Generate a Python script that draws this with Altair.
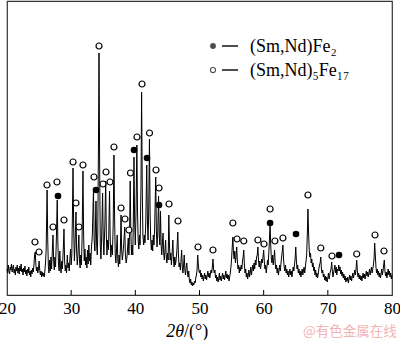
import altair as alt
import pandas as pd

# ---- XRD pattern: [2theta, intensity (a.u.)] ----
seg_20_26 = [
    [20.0, 26], [20.1, 22], [20.2, 30], [20.3, 24], [20.4, 21], [20.5, 28], [20.6, 25], [20.7, 31],
    [20.8, 23], [20.9, 27], [21.0, 30], [21.1, 22], [21.2, 26], [21.3, 20], [21.4, 28], [21.5, 24],
    [21.6, 30], [21.7, 22], [21.8, 27], [21.9, 21], [22.0, 29], [22.1, 24], [22.2, 31], [22.3, 23],
    [22.4, 26], [22.5, 20], [22.6, 27], [22.7, 23], [22.8, 29], [22.9, 21], [23.0, 25], [23.1, 19],
    [23.2, 26], [23.3, 22], [23.4, 28], [23.5, 20], [23.6, 24], [23.7, 18], [23.8, 25], [23.9, 21],
    [24.0, 27], [24.1, 23], [24.2, 30], [24.3, 40], [24.4, 43], [24.5, 30], [24.6, 24], [24.7, 28],
    [24.8, 22], [24.9, 26], [25.0, 34], [25.1, 25], [25.2, 20], [25.3, 24], [25.4, 18], [25.5, 23],
    [25.6, 19], [25.7, 22], [25.8, 18], [25.9, 24], [26.0, 32],
]
seg_26_35 = [
    [26.1, 45], [26.2, 85], [26.25, 105], [26.35, 55], [26.45, 28], [26.55, 22], [26.65, 35], [26.75, 24],
    [26.85, 38], [26.95, 26], [27.05, 42], [27.17, 60], [27.27, 34], [27.37, 25], [27.47, 38], [27.57, 28],
    [27.7, 58], [27.83, 95], [27.93, 52], [28.03, 30], [28.13, 24], [28.23, 44], [28.33, 28], [28.43, 22],
    [28.53, 34], [28.63, 26], [28.73, 40], [28.8, 50], [28.88, 66], [28.98, 34], [29.08, 24], [29.18, 30],
    [29.28, 22], [29.4, 40], [29.5, 27], [29.6, 32], [29.7, 24], [29.8, 36], [29.9, 46], [30.0, 30],
    [30.1, 40], [30.2, 82], [30.29, 127], [30.39, 68], [30.5, 34], [30.6, 50], [30.75, 83], [30.85, 44],
    [30.95, 30], [31.05, 40], [31.2, 60], [31.3, 34], [31.4, 27], [31.5, 40], [31.6, 30], [31.7, 56],
    [31.84, 124], [31.94, 60], [32.04, 34], [32.15, 46], [32.25, 30], [32.35, 38], [32.45, 27], [32.55, 45],
    [32.65, 31], [32.75, 50], [32.85, 34], [32.95, 42], [33.05, 30], [33.15, 46], [33.3, 60], [33.48, 106],
    [33.58, 55], [33.7, 44], [33.87, 94], [33.97, 50], [34.07, 40], [34.15, 62], [34.25, 150], [34.34, 242],
    [34.44, 128], [34.54, 50], [34.64, 36],
]
seg_35_41 = [
    [34.75, 58], [34.9, 102], [35.0, 55], [35.1, 40], [35.25, 70], [35.38, 114], [35.48, 60], [35.58, 40],
    [35.68, 55], [35.82, 45], [35.98, 104], [36.08, 58], [36.18, 38], [36.3, 50], [36.42, 40], [36.55, 70],
    [36.67, 140], [36.77, 78], [36.87, 40], [36.97, 32], [37.07, 45], [37.17, 60], [37.27, 35], [37.37, 28],
    [37.47, 40], [37.57, 31], [37.67, 46], [37.77, 80], [37.87, 45], [37.97, 35], [38.07, 41], [38.2, 52],
    [38.35, 68], [38.45, 40], [38.57, 32], [38.7, 38], [38.9, 57], [39.0, 40], [39.1, 62], [39.2, 114],
    [39.3, 64], [39.4, 40], [39.5, 50], [39.6, 40], [39.68, 70], [39.79, 138], [39.89, 74], [39.99, 50],
    [40.1, 80], [40.24, 150], [40.34, 84], [40.44, 55], [40.54, 46],
]
seg_41_50 = [
    [40.64, 60], [40.74, 50], [40.88, 110], [40.98, 203], [41.08, 108], [41.18, 60], [41.3, 50], [41.4, 60],
    [41.5, 52], [41.62, 70], [41.78, 130], [41.88, 75], [41.98, 55], [42.08, 82], [42.2, 156], [42.3, 84],
    [42.4, 55], [42.5, 45], [42.6, 55], [42.7, 44], [42.8, 60], [42.9, 50], [43.0, 65], [43.18, 118],
    [43.28, 64], [43.38, 48], [43.48, 60], [43.62, 99], [43.72, 60], [43.82, 50], [43.92, 84], [44.02, 50],
    [44.12, 40], [44.22, 52], [44.32, 62], [44.42, 42], [44.52, 35], [44.62, 45], [44.72, 55], [44.82, 38],
    [44.92, 32], [45.02, 42], [45.12, 35], [45.22, 80], [45.32, 50], [45.42, 35], [45.52, 42], [45.62, 30],
    [45.72, 40], [45.85, 55], [45.95, 35], [46.05, 28], [46.15, 38], [46.25, 30], [46.35, 35], [46.48, 45],
    [46.62, 63], [46.72, 40], [46.82, 28], [46.92, 32], [47.02, 25], [47.12, 35], [47.22, 45], [47.32, 28],
    [47.42, 22], [47.52, 30], [47.62, 40], [47.72, 25], [47.82, 20], [47.92, 28], [48.02, 32], [48.12, 22],
    [48.22, 18], [48.32, 24], [48.42, 15], [48.52, 12], [48.62, 16], [48.72, 10], [48.82, 13], [48.92, 9],
    [49.02, 12], [49.12, 10], [49.22, 14], [49.32, 12], [49.42, 17], [49.52, 20], [49.62, 25], [49.72, 40],
    [49.82, 30], [49.92, 24],
]
seg_50_65 = [
    [50.0, 22], [50.1, 25], [50.2, 18], [50.3, 22], [50.4, 16], [50.5, 20], [50.6, 14], [50.7, 18],
    [50.8, 22], [50.9, 16], [51.0, 20], [51.1, 15], [51.2, 19], [51.3, 24], [51.4, 18], [51.5, 22],
    [51.6, 17], [51.7, 21], [51.8, 25], [51.9, 22], [52.0, 28], [52.1, 36], [52.2, 26], [52.3, 22],
    [52.4, 25], [52.5, 17], [52.6, 20], [52.7, 14], [52.8, 18], [52.9, 13], [53.0, 17], [53.1, 22],
    [53.2, 15], [53.3, 19], [53.4, 14], [53.5, 18], [53.6, 22], [53.7, 16], [53.8, 20], [53.9, 15],
    [54.0, 19], [54.1, 24], [54.2, 17], [54.3, 21], [54.4, 16], [54.5, 20], [54.6, 14], [54.7, 18],
    [54.8, 22], [54.9, 28], [55.0, 36], [55.1, 48], [55.2, 58], [55.3, 42], [55.4, 36], [55.5, 44],
    [55.6, 32], [55.7, 38], [55.8, 48], [55.9, 34], [56.0, 26], [56.1, 30], [56.2, 22], [56.3, 28],
    [56.4, 24], [56.5, 30], [56.6, 26], [56.7, 34], [56.8, 38], [56.9, 45], [57.0, 30], [57.1, 22],
    [57.2, 26], [57.3, 18], [57.4, 22], [57.5, 16], [57.6, 20], [57.7, 25], [57.8, 18], [57.9, 22],
    [58.0, 28], [58.1, 20], [58.2, 25], [58.3, 30], [58.4, 24], [58.5, 32], [58.6, 26], [58.7, 35],
    [58.8, 30], [58.9, 38], [59.0, 40], [59.1, 48], [59.2, 34], [59.3, 28], [59.4, 34], [59.5, 26],
    [59.6, 30], [59.7, 36], [59.8, 32], [59.9, 38], [60.0, 45], [60.1, 34], [60.2, 26], [60.3, 30],
    [60.4, 22], [60.5, 28], [60.6, 35], [60.7, 30], [60.8, 42], [60.9, 55], [61.0, 72], [61.1, 50],
    [61.2, 36], [61.3, 32], [61.4, 40], [61.5, 30], [61.6, 36], [61.7, 45], [61.8, 32], [61.9, 26],
    [62.0, 30], [62.1, 22], [62.2, 27], [62.3, 20], [62.4, 25], [62.5, 30], [62.6, 24], [62.7, 32],
    [62.8, 38], [62.9, 44], [63.0, 50], [63.1, 36], [63.2, 28], [63.3, 24], [63.4, 30], [63.5, 22],
    [63.6, 26], [63.7, 20], [63.8, 24], [63.9, 18], [64.0, 22], [64.1, 26], [64.2, 20], [64.3, 24],
    [64.4, 18], [64.5, 23], [64.6, 28], [64.7, 24], [64.8, 30], [64.9, 36], [65.0, 48],
]
seg_65_80 = [
    [65.1, 34], [65.2, 26], [65.3, 30], [65.4, 22], [65.5, 26], [65.6, 20], [65.7, 24], [65.8, 18],
    [65.9, 22], [66.0, 26], [66.1, 20], [66.2, 24], [66.3, 28], [66.4, 22], [66.5, 28], [66.6, 34],
    [66.7, 40], [66.8, 60], [66.9, 86], [67.0, 62], [67.1, 45], [67.2, 38], [67.3, 42], [67.4, 32],
    [67.5, 36], [67.6, 28], [67.7, 32], [67.8, 24], [67.9, 28], [68.0, 20], [68.1, 25], [68.2, 18],
    [68.3, 22], [68.4, 17], [68.5, 21], [68.6, 26], [68.7, 30], [68.8, 32], [68.9, 38], [69.0, 26],
    [69.1, 22], [69.2, 25], [69.3, 18], [69.4, 21], [69.5, 15], [69.6, 19], [69.7, 14], [69.8, 18],
    [69.9, 13], [70.0, 17], [70.1, 22], [70.2, 16], [70.3, 20], [70.4, 24], [70.5, 26], [70.6, 33],
    [70.7, 24], [70.8, 18], [70.9, 22], [71.0, 26], [71.1, 30], [71.2, 22], [71.3, 28], [71.4, 20],
    [71.5, 26], [71.6, 24], [71.7, 30], [71.8, 24], [71.9, 28], [72.0, 21], [72.1, 25], [72.2, 19],
    [72.3, 23], [72.4, 17], [72.5, 21], [72.6, 15], [72.7, 19], [72.8, 13], [72.9, 17], [73.0, 14],
    [73.1, 18], [73.2, 12], [73.3, 16], [73.4, 20], [73.5, 15], [73.6, 19], [73.7, 14], [73.8, 18],
    [73.9, 22], [74.0, 17], [74.1, 21], [74.2, 25], [74.3, 20], [74.4, 26], [74.5, 35], [74.6, 24],
    [74.7, 18], [74.8, 22], [74.9, 16], [75.0, 20], [75.1, 15], [75.2, 19], [75.3, 14], [75.4, 18],
    [75.5, 22], [75.6, 17], [75.7, 21], [75.8, 16], [75.9, 20], [76.0, 24], [76.1, 19], [76.2, 23],
    [76.3, 18], [76.4, 22], [76.5, 26], [76.6, 20], [76.7, 24], [76.8, 28], [76.9, 22], [77.0, 26],
    [77.1, 30], [77.2, 36], [77.3, 52], [77.4, 40], [77.5, 28], [77.6, 22], [77.7, 26], [77.8, 20],
    [77.9, 24], [78.0, 18], [78.1, 22], [78.2, 17], [78.3, 21], [78.4, 26], [78.5, 20], [78.6, 24],
    [78.7, 30], [78.8, 35], [78.9, 24], [79.0, 19], [79.1, 23], [79.2, 17], [79.3, 21], [79.4, 26],
    [79.5, 20], [79.6, 24], [79.7, 18], [79.8, 22], [79.9, 16], [80.0, 20],
]

# ---- phase markers: (Sm,Nd)5Fe17 = open circles, (Sm,Nd)Fe2 = filled dots ----
open_t = [24.36, 24.99, 26.23, 27.17, 27.79, 28.88, 30.29, 30.75, 31.22, 31.84, 33.56, 34.34,
          34.96, 35.43, 36.05, 36.67, 37.77, 38.39, 39.01, 39.24, 40.26, 41.04, 42.21, 43.22,
          43.69, 45.25, 46.65, 49.77, 52.1, 55.2, 55.85, 56.9, 59.1, 60.05, 61.0, 61.75,
          63.0, 66.9, 68.9, 70.65, 74.5, 77.35, 78.75]
open_i = [53, 43, 110, 68, 113, 75, 133, 92, 68, 130, 118, 249,
          111, 123, 113, 148, 87, 76, 65, 122, 158, 211, 162, 125,
          107, 91, 74, 48, 45, 72, 56, 54, 55, 51, 86, 54,
          57, 100, 47, 39, 41, 60, 44]
fill_t = [27.95, 33.87, 39.79, 41.82, 43.69, 61.0, 65.04, 71.74]
fill_i = [99, 105, 145, 137, 90, 72, 61, 40]

x_ticks = [20, 30, 40, 50, 60, 70, 80]
inner_ticks = [30, 40, 50, 60, 70]

legend_labels = ["(Sm,Nd)Fe\u2082", "(Sm,Nd)\u2085Fe\u2081\u2087"]
x_title_italic = "2\u03b8"
x_title_rest = "/(\u00b0)"
watermark = "@有色金属在线"

W, H = 385, 294
SERIF = "Liberation Serif"

pattern = seg_20_26 + seg_26_35 + seg_35_41 + seg_41_50 + seg_50_65 + seg_65_80
df = pd.DataFrame(pattern, columns=["t", "i"])
df_open = pd.DataFrame({"t": open_t, "i": open_i})
df_fill = pd.DataFrame({"t": fill_t, "i": fill_i})
df_ticks = pd.DataFrame({"t": inner_ticks})
one = pd.DataFrame({"k": [0]})

xs = alt.Scale(domain=[20, 80], nice=False, zero=False)
ys = alt.Scale(domain=[0, 294], nice=False, zero=False)

line = alt.Chart(df).mark_line(color="#000000", strokeWidth=1.0).encode(
    x=alt.X("t:Q", scale=xs,
            axis=alt.Axis(values=x_ticks, ticks=False, domain=False, grid=False,
                          labelFont=SERIF, labelFontSize=17, labelColor="black",
                          labelPadding=5, labelFlush=False, format="d", title=None)),
    y=alt.Y("i:Q", scale=ys, axis=None),
)

opens = alt.Chart(df_open).mark_point(shape="circle", filled=False, fill="white", fillOpacity=1,
                                      stroke="black", strokeWidth=1.2, size=36, opacity=1).encode(
    x=alt.X("t:Q", scale=xs), y=alt.Y("i:Q", scale=ys))

fills = alt.Chart(df_fill).mark_point(shape="circle", filled=True, color="black",
                                      size=44, opacity=1).encode(
    x=alt.X("t:Q", scale=xs), y=alt.Y("i:Q", scale=ys))

ticks = alt.Chart(df_ticks).mark_rule(color="black", strokeWidth=1).encode(
    x=alt.X("t:Q", scale=xs), y=alt.value(H - 5), y2=alt.value(H))

# legend (drawn inside the plot)
leg_dot = alt.Chart(one).mark_point(shape="circle", filled=True, color="black", size=34).encode(
    x=alt.value(206), y=alt.value(45))
leg_ring = alt.Chart(one).mark_point(shape="circle", filled=False, stroke="black",
                                     strokeWidth=1.1, size=26).encode(
    x=alt.value(206), y=alt.value(69))
leg_dash1 = alt.Chart(one).mark_rule(color="black", strokeWidth=1.4).encode(
    x=alt.value(215), x2=alt.value(231), y=alt.value(45))
leg_dash2 = alt.Chart(one).mark_rule(color="black", strokeWidth=1.4).encode(
    x=alt.value(215), x2=alt.value(231), y=alt.value(69))
leg_txt1 = alt.Chart(one).mark_text(text=legend_labels[0], font=SERIF, fontSize=18, align="left",
                                    baseline="alphabetic", color="black").encode(
    x=alt.value(243), y=alt.value(51))
leg_txt2 = alt.Chart(one).mark_text(text=legend_labels[1], font=SERIF, fontSize=18, align="left",
                                    baseline="alphabetic", color="black").encode(
    x=alt.value(243), y=alt.value(75))

# x-axis title with italic 2θ
title_a = alt.Chart(one).mark_text(text=x_title_italic, font=SERIF, fontSize=18, fontStyle="italic",
                                   align="right", baseline="alphabetic", color="black").encode(
    x=alt.value(177), y=alt.value(336))
title_b = alt.Chart(one).mark_text(text=x_title_rest, font=SERIF, fontSize=18,
                                   align="left", baseline="alphabetic", color="black").encode(
    x=alt.value(177), y=alt.value(336))

wm = alt.Chart(one).mark_text(text=watermark, font="Noto Sans CJK SC", fontSize=13.5,
                              align="left", baseline="alphabetic", color="#f2b4b4").encode(
    x=alt.value(296), y=alt.value(335))

chart = alt.layer(
    line, ticks, opens, fills,
    leg_dot, leg_ring, leg_dash1, leg_dash2, leg_txt1, leg_txt2,
    title_a, title_b, wm,
).properties(
    width=W, height=H,
    padding={"left": 7, "top": 1, "right": 8, "bottom": 45},
    autosize=alt.AutoSizeParams(type="none"),
    background="white",
).configure_view(
    stroke="#333333", strokeWidth=1.2
)

chart.save("out.html", embed_options={"renderer": "svg", "actions": False})
